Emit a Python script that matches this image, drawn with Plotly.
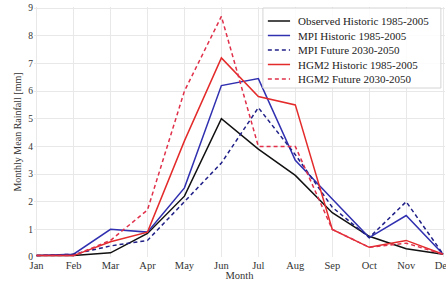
import plotly.graph_objects as go

months = ["Jan", "Feb", "Mar", "Apr", "May", "Jun", "Jul", "Aug", "Sep", "Oct", "Nov", "Dec"]
obs_hist = [0.05, 0.05, 0.15, 0.85, 2.2, 5.0, 3.9, 2.95, 1.6, 0.75, 0.3, 0.1]
mpi_hist = [0.05, 0.1, 1.0, 0.9, 2.5, 6.2, 6.45, 3.5, 2.1, 0.7, 1.5, 0.1]
mpi_fut = [0.05, 0.1, 0.4, 0.6, 2.0, 3.4, 5.4, 3.7, 1.8, 0.7, 2.0, 0.1]
hgm_hist = [0.05, 0.05, 0.55, 0.9, 4.2, 7.2, 5.8, 5.5, 1.0, 0.35, 0.6, 0.1]
hgm_fut = [0.05, 0.05, 0.6, 1.7, 6.0, 8.7, 4.0, 4.0, 1.0, 0.35, 0.5, 0.1]
y_ticks = list(range(10))

series = [
    ("Observed Historic 1985-2005", obs_hist, "#111111", "solid"),
    ("MPI Historic 1985-2005", mpi_hist, "#3030b0", "solid"),
    ("MPI Future 2030-2050", mpi_fut, "#202088", "4px,3px"),
    ("HGM2 Historic 1985-2005", hgm_hist, "#e42b2b", "solid"),
    ("HGM2 Future 2030-2050", hgm_fut, "#e0304a", "4px,3px"),
]

font = "Liberation Serif, Times New Roman, serif"
x = list(range(len(months)))
fig = go.Figure()
for name, vals, color, dash in series:
    fig.add_trace(go.Scatter(x=x, y=vals, mode="lines", name=name, showlegend=False,
                             line=dict(color=color, width=1.5, dash=dash)))

# compact legend (matplotlib-style), drawn in paper coordinates
shapes = [dict(type="rect", xref="paper", yref="paper", x0=0.557, x1=0.99, y0=0.676, y1=0.996,
               line=dict(color="#d4d4d4", width=1), fillcolor="rgba(255,255,255,0.85)", layer="above")]
annotations = []
row_y = [0.944, 0.886, 0.828, 0.770, 0.712]
for (name, vals, color, dash), yy in zip(series, row_y):
    shapes.append(dict(type="line", xref="paper", yref="paper", x0=0.569, x1=0.623, y0=yy, y1=yy,
                       line=dict(color=color, width=1.5, dash=dash), layer="above"))
    annotations.append(dict(xref="paper", yref="paper", x=0.637, y=yy, text=name, showarrow=False,
                            xanchor="left", yanchor="middle",
                            font=dict(family=font, size=11, color="#222")))

fig.update_layout(
    width=446, height=285,
    margin=dict(l=34, r=1, t=7, b=28),
    paper_bgcolor="white", plot_bgcolor="white",
    font=dict(family=font, size=11, color="#333"),
    showlegend=False,
    shapes=shapes, annotations=annotations,
)
fig.update_xaxes(tickmode="array", tickvals=x, ticktext=months, range=[-0.07, 11.05],
                 showgrid=True, gridcolor="#e8e8e8", gridwidth=1, zeroline=False,
                 showline=False, ticks="", tickfont=dict(size=10.5), automargin=False,
                 ticklabeloverflow="allow",
                 title=dict(text="Month", standoff=0, font=dict(size=10.5)))
fig.update_yaxes(range=[0, 9.04], tickmode="array", tickvals=y_ticks, showgrid=True, gridcolor="#e8e8e8",
                 zeroline=False, showline=False, ticks="", tickfont=dict(size=9.5), automargin=False,
                 title=dict(text="Monthly Mean Rainfall [mm]", standoff=4, font=dict(size=10)))
fig.write_html("out.html", config={"displayModeBar": False},
               post_script="document.body.style.margin='0';document.body.style.overflow='hidden';")
